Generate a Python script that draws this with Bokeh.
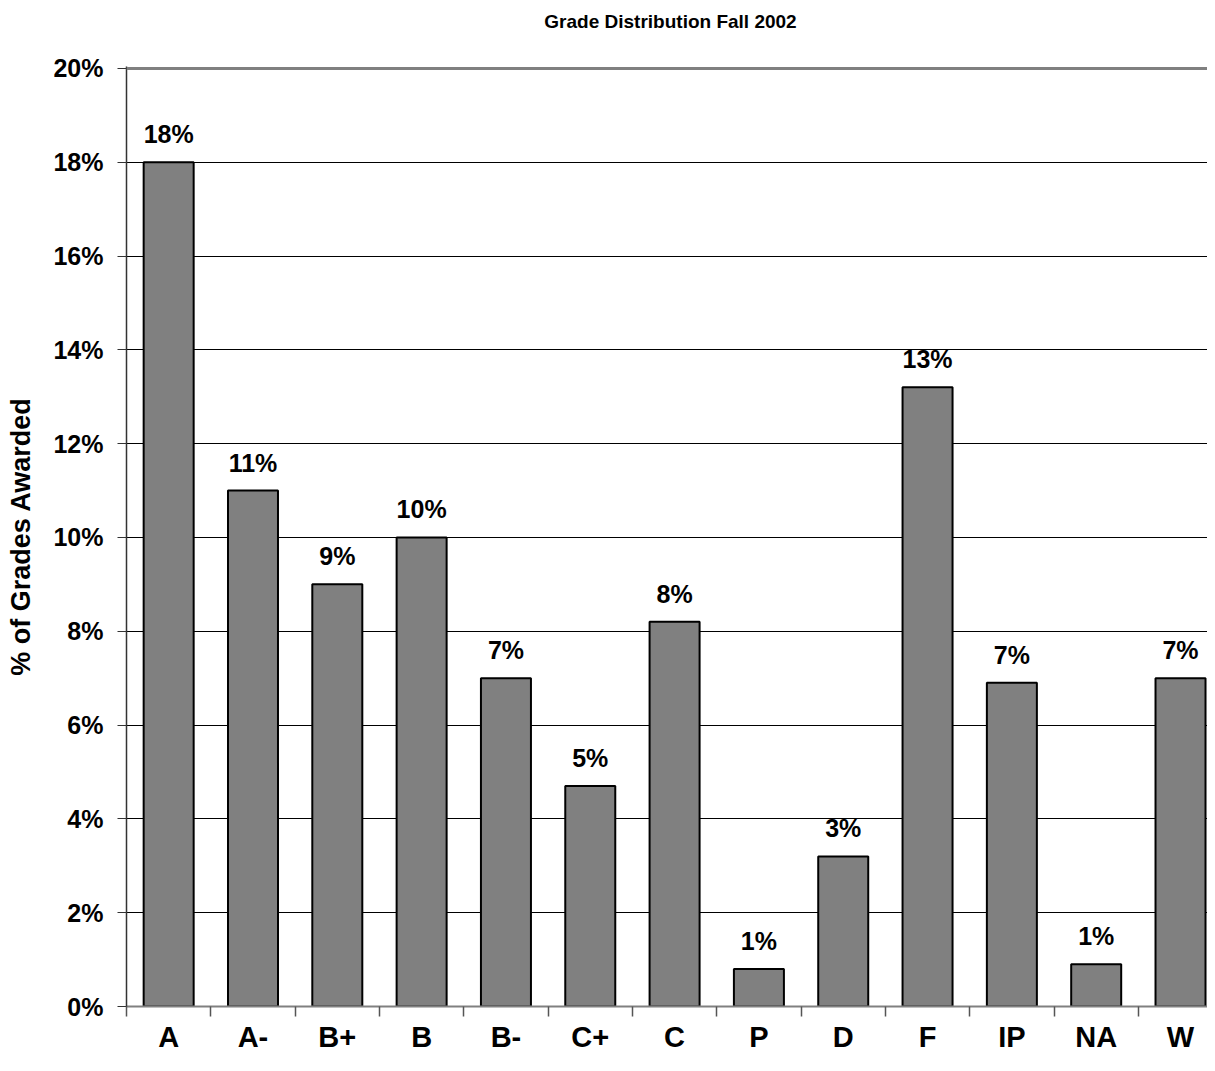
from bokeh.plotting import figure
from bokeh.models import (ColumnDataSource, Range1d, FixedTicker, PrintfTickFormatter,
                          LabelSet, Span, Div)
from bokeh.layouts import column
from bokeh.core.properties import value
from bokeh.embed import file_html
from bokeh.resources import INLINE

grades = ["A", "A-", "B+", "B", "B-", "C+", "C", "P", "D", "F", "IP", "NA", "W"]
pct = [18.0, 11.0, 9.0, 10.0, 7.0, 4.7, 8.2, 0.8, 3.2, 13.2, 6.9, 0.9, 7.0]
y_ticks = [0, 2, 4, 6, 8, 10, 12, 14, 16, 18, 20]
title_text = "Grade Distribution Fall 2002"

FONT = "Liberation Sans"

xs = list(range(len(grades)))
labels = [f"{round(v)}%" for v in pct]
src = ColumnDataSource(dict(x=xs, top=pct, lab=labels))

title_div = Div(text=title_text, width=1073, height=40, margin=(0, 0, 0, 134),
                styles={"text-align": "center", "font-family": "'Liberation Sans', sans-serif",
                        "font-size": "19px", "font-weight": "bold", "color": "black",
                        "padding-top": "11px", "line-height": "22px",
                        "box-sizing": "border-box"})

p = figure(width=1207, height=1015, output_backend="svg", toolbar_location=None,
           x_range=Range1d(-0.5, 12.32), y_range=Range1d(0, 20.04),
           min_border_left=126, min_border_right=0, min_border_top=26,
           min_border_bottom=46)

p.vbar(x="x", top="top", width=0.593, bottom=0, source=src,
       fill_color="#808080", line_color="black", line_width=2)

p.add_layout(LabelSet(x="x", y="top", text="lab", source=src, y_offset=28,
                      text_align="center", text_baseline="middle",
                      text_font=value(FONT), text_font_size=value("25px"),
                      text_font_style="bold", text_color="black"))

p.add_layout(Span(location=y_ticks[-1], dimension="width", line_color="#808080",
                  line_width=3))

# grid
p.xgrid.visible = False
p.ygrid.ticker = FixedTicker(ticks=y_ticks[1:-1])
p.ygrid.grid_line_color = "black"
p.ygrid.grid_line_width = 1

p.outline_line_color = None

# y axis
ya = p.yaxis[0]
ya.ticker = FixedTicker(ticks=y_ticks)
ya.formatter = PrintfTickFormatter(format="%d%%")
ya.axis_label = "% of Grades Awarded"
ya.axis_label_text_font = FONT
ya.axis_label_text_font_size = "27px"
ya.axis_label_text_font_style = "bold"
ya.axis_label_text_color = "black"
ya.axis_label_standoff = 14
ya.major_label_text_font = FONT
ya.major_label_text_font_size = "25px"
ya.major_label_text_font_style = "bold"
ya.major_label_text_color = "black"
ya.major_label_standoff = 14
ya.major_tick_out = 9
ya.major_tick_in = 0
ya.minor_tick_out = 0
ya.minor_tick_in = 0
ya.axis_line_color = "#333333"
ya.axis_line_width = 1.5
ya.major_tick_line_color = "#333333"

# x axis
xa = p.xaxis[0]
bounds = [i + 0.5 for i in xs[:-1]] + [-0.5]
xa.ticker = FixedTicker(ticks=xs, minor_ticks=bounds)
xa.major_label_overrides = {i: g for i, g in zip(xs, grades)}
xa.major_label_text_font = FONT
xa.major_label_text_font_size = "29px"
xa.major_label_text_font_style = "bold"
xa.major_label_text_color = "black"
xa.major_label_standoff = 4
xa.major_tick_out = 0
xa.major_tick_in = 0
xa.minor_tick_out = 10
xa.minor_tick_in = 0
xa.minor_tick_line_color = "#555555"
xa.minor_tick_line_width = 1.5
xa.axis_line_color = "#808080"
xa.axis_line_width = 2

layout = column(title_div, p, spacing=0)
open("out.html", "w").write(file_html(layout, INLINE))
